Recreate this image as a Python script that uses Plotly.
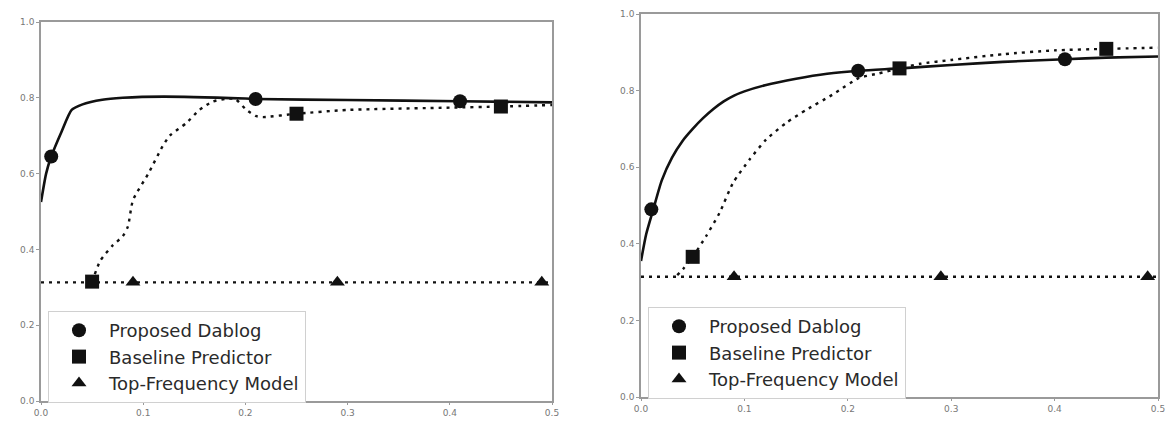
import plotly.graph_objects as go

# ---------------- data: left panel ----------------
dablog_x_L = [0.0, 0.005, 0.01, 0.02, 0.03, 0.04, 0.06, 0.08, 0.12, 0.2, 0.21, 0.3, 0.41, 0.5]
dablog_y_L = [0.525, 0.60, 0.645, 0.71, 0.768, 0.782, 0.795, 0.80, 0.803, 0.798, 0.797, 0.794, 0.791, 0.788]
baseline_x_L = [0.05, 0.058, 0.07, 0.08, 0.085, 0.09, 0.105, 0.119, 0.126, 0.142, 0.155, 0.168,
                0.18, 0.19, 0.201, 0.21, 0.217, 0.25, 0.3, 0.4, 0.45, 0.5]
baseline_y_L = [0.315, 0.37, 0.41, 0.435, 0.46, 0.53, 0.60, 0.672, 0.70, 0.733, 0.768, 0.79,
                0.797, 0.797, 0.768, 0.752, 0.749, 0.758, 0.768, 0.774, 0.777, 0.781]
topfreq_x_L = [0.0, 0.5]
topfreq_y_L = [0.313, 0.313]

dablog_mx_L = [0.01, 0.21, 0.41]
dablog_my_L = [0.645, 0.797, 0.791]
baseline_mx_L = [0.05, 0.25, 0.45]
baseline_my_L = [0.315, 0.758, 0.777]
topfreq_mx_L = [0.09, 0.29, 0.49]
topfreq_my_L = [0.313, 0.313, 0.313]

# ---------------- data: right panel ----------------
dablog_x_R = [0.0, 0.005, 0.012, 0.02, 0.03, 0.04, 0.05, 0.06, 0.07, 0.08, 0.09, 0.1, 0.12, 0.15,
              0.18, 0.212, 0.251, 0.3, 0.35, 0.41, 0.45, 0.5]
dablog_y_R = [0.355, 0.425, 0.491, 0.565, 0.625, 0.668, 0.70, 0.728, 0.752, 0.772, 0.787, 0.798,
              0.814, 0.831, 0.844, 0.852, 0.858, 0.867, 0.875, 0.882, 0.886, 0.889]
baseline_x_R = [0.035, 0.041, 0.05, 0.063, 0.076, 0.089, 0.105, 0.121, 0.14, 0.16, 0.185, 0.211,
                0.23, 0.25, 0.27, 0.3, 0.35, 0.4, 0.45, 0.5]
baseline_y_R = [0.318, 0.335, 0.366, 0.42, 0.481, 0.559, 0.62, 0.672, 0.715, 0.75, 0.789, 0.833,
                0.845, 0.858, 0.87, 0.88, 0.895, 0.905, 0.909, 0.912]
topfreq_x_R = [0.0, 0.5]
topfreq_y_R = [0.314, 0.314]

dablog_mx_R = [0.01, 0.21, 0.41]
dablog_my_R = [0.49, 0.852, 0.882]
baseline_mx_R = [0.05, 0.25, 0.45]
baseline_my_R = [0.366, 0.858, 0.909]
topfreq_mx_R = [0.09, 0.29, 0.49]
topfreq_my_R = [0.314, 0.314, 0.314]

names = ["Proposed Dablog", "Baseline Predictor", "Top-Frequency Model"]
symbols = ["circle", "square", "triangle-up"]

x_ticks = [0.0, 0.1, 0.2, 0.3, 0.4, 0.5]
y_ticks = [0.0, 0.2, 0.4, 0.6, 0.8, 1.0]

LINE = "#111111"
DOT = "3px,5px"

fig = go.Figure()

panels = [
    ("x", "y", "legend",
     [(dablog_x_L, dablog_y_L, "solid"), (baseline_x_L, baseline_y_L, DOT), (topfreq_x_L, topfreq_y_L, DOT)],
     [(dablog_mx_L, dablog_my_L), (baseline_mx_L, baseline_my_L), (topfreq_mx_L, topfreq_my_L)]),
    ("x2", "y2", "legend2",
     [(dablog_x_R, dablog_y_R, "solid"), (baseline_x_R, baseline_y_R, DOT), (topfreq_x_R, topfreq_y_R, DOT)],
     [(dablog_mx_R, dablog_my_R), (baseline_mx_R, baseline_my_R), (topfreq_mx_R, topfreq_my_R)]),
]

for xa, ya, lg, lines, marks in panels:
    for (lx, ly, dash) in lines:
        fig.add_trace(go.Scatter(x=lx, y=ly, mode="lines", xaxis=xa, yaxis=ya,
                                 line=dict(color=LINE, width=2.6 if dash == "solid" else 2.4,
                                           dash=dash, shape="spline", smoothing=0.6),
                                 showlegend=False, hoverinfo="skip"))
    for i, (mx, my) in enumerate(marks):
        fig.add_trace(go.Scatter(x=mx, y=my, mode="markers", xaxis=xa, yaxis=ya, name=names[i],
                                 legend=lg,
                                 marker=dict(symbol=symbols[i], size=14 if i < 2 else 13, color=LINE,
                                             line=dict(width=0))))

axis_common = dict(showline=True, linecolor="#9a9a9a", linewidth=1.5, mirror=True,
                   ticks="outside", ticklen=3, tickcolor="#9a9a9a", tickwidth=1.2,
                   showgrid=False, zeroline=False, automargin=False,
                   ticklabeloverflow="allow",
                   tickfont=dict(family="DejaVu Sans", size=9, color="#777777"))
x_axis_extra = dict(ticklen=2)

# the page body adds an 8px margin, so the figure is placed at (8, 8) in the window
OFF = 8
W, H = 1175 - 2 * OFF, 426 - 2 * OFF


def fx(px):
    return (px - OFF) / W


def fy(py):
    return (H - (py - OFF)) / H


legend_font = dict(family="DejaVu Sans", size=18, color="#2a2a2a")
fig.update_layout(
    width=W, height=H,
    margin=dict(l=0, r=0, t=0, b=0, autoexpand=False),
    paper_bgcolor="white", plot_bgcolor="white",
    xaxis=dict(domain=[fx(41), fx(552)], range=[0, 0.5], tickvals=x_ticks, tickformat=".1f", anchor="y",
               **{**axis_common, **x_axis_extra}),
    yaxis=dict(domain=[fy(401), fy(22)], range=[0, 1.0], tickvals=y_ticks, tickformat=".1f", anchor="x", **axis_common),
    xaxis2=dict(domain=[fx(641), fx(1158)], range=[0, 0.5], tickvals=x_ticks, tickformat=".1f", anchor="y2",
                **{**axis_common, **x_axis_extra}),
    yaxis2=dict(domain=[fy(397), fy(14)], range=[0, 1.0], tickvals=y_ticks, tickformat=".1f", anchor="x2", **axis_common),
    legend=dict(x=fx(48), y=fy(311), xanchor="left", yanchor="top", itemwidth=50,
                bgcolor="white", bordercolor="#d0d0d0", borderwidth=1, font=legend_font),
    legend2=dict(x=fx(648), y=fy(307), xanchor="left", yanchor="top", itemwidth=50,
                 bgcolor="white", bordercolor="#d0d0d0", borderwidth=1, font=legend_font),
)

fig.write_html("out.html")
